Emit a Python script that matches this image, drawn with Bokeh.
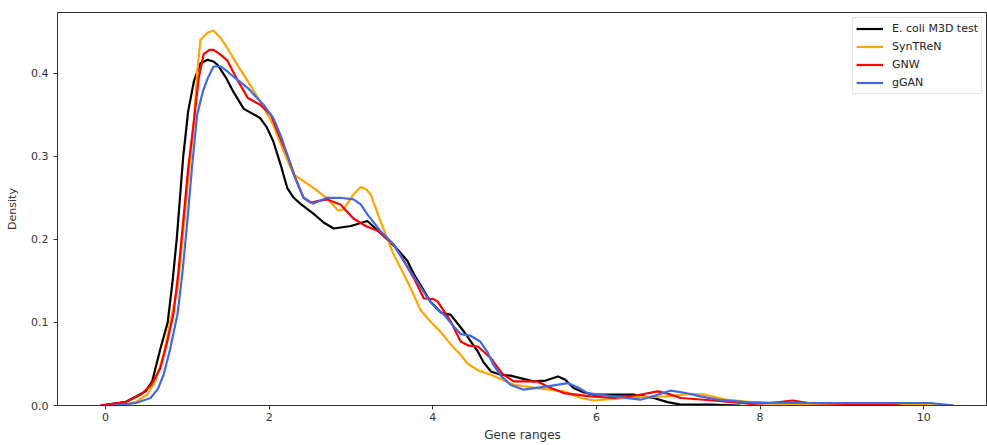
from bokeh.plotting import figure
from bokeh.models import Range1d, SingleIntervalTicker, PrintfTickFormatter, Legend, LegendItem
from bokeh.embed import file_html
from bokeh.resources import INLINE

# E. coli M3D test
ecoli_x = [-0.06, 0.24, 0.49, 0.57, 0.67, 0.76, 0.82, 0.87, 0.91, 0.95, 1.01, 1.08, 1.16, 1.25, 1.32, 1.37,
           1.47, 1.56, 1.69, 1.80, 1.89, 1.97, 2.05, 2.14, 2.22, 2.30, 2.38, 2.54, 2.67, 2.79, 3.00,
           3.20, 3.40, 3.55, 3.69, 3.77, 3.85, 3.97, 4.10, 4.22, 4.38, 4.55, 4.62, 4.71, 4.83, 4.95,
           5.07, 5.23, 5.38, 5.53, 5.62, 5.72, 5.84, 5.97, 6.21, 6.45, 6.70, 6.87, 7.03, 7.40, 7.76]
ecoli_y = [0.000, 0.004, 0.017, 0.029, 0.068, 0.100, 0.150, 0.200, 0.250, 0.300, 0.354, 0.390, 0.412, 0.416, 0.414, 0.410,
           0.395, 0.378, 0.357, 0.351, 0.346, 0.335, 0.318, 0.290, 0.262, 0.250, 0.243, 0.231, 0.220, 0.213, 0.216,
           0.222, 0.204, 0.190, 0.174, 0.158, 0.145, 0.125, 0.112, 0.109, 0.089, 0.065, 0.052, 0.041, 0.037, 0.036,
           0.033, 0.029, 0.030, 0.035, 0.031, 0.021, 0.016, 0.013, 0.013, 0.013, 0.009, 0.004, 0.001, 0.001, 0.000]

# SynTReN
syn_x = [0.18, 0.37, 0.51, 0.61, 0.71, 0.79, 0.88, 0.94, 1.00, 1.08, 1.12, 1.16, 1.25, 1.32, 1.41,
         1.49, 1.61, 1.74, 1.89, 2.05, 2.18, 2.30, 2.42, 2.54, 2.71, 2.84, 2.91, 3.03, 3.12, 3.19,
         3.24, 3.36, 3.52, 3.61, 3.73, 3.85, 3.97, 4.10, 4.25, 4.34, 4.43, 4.56, 4.71, 4.99, 5.28,
         5.60, 5.81, 5.97, 6.21, 6.54, 6.85, 7.15, 7.33, 7.58, 7.89, 8.19, 8.99, 9.47, 9.96, 10.33]
syn_y = [0.000, 0.004, 0.013, 0.030, 0.061, 0.100, 0.141, 0.200, 0.262, 0.342, 0.400, 0.440, 0.449, 0.451, 0.442,
         0.430, 0.410, 0.390, 0.366, 0.338, 0.305, 0.278, 0.270, 0.262, 0.249, 0.235, 0.236, 0.254, 0.263, 0.260,
         0.254, 0.222, 0.182, 0.165, 0.141, 0.115, 0.101, 0.088, 0.070, 0.061, 0.050, 0.042, 0.037, 0.025, 0.021,
         0.017, 0.009, 0.006, 0.008, 0.010, 0.011, 0.014, 0.013, 0.007, 0.004, 0.002, 0.002, 0.002, 0.001, 0.000]

# GNW
gnw_x = [-0.06, 0.24, 0.43, 0.56, 0.67, 0.75, 0.83, 0.89, 0.95, 1.01, 1.08, 1.14, 1.20, 1.27, 1.32,
         1.41, 1.49, 1.61, 1.74, 1.89, 2.02, 2.11, 2.22, 2.32, 2.42, 2.51, 2.59, 2.71, 2.87, 3.03,
         3.18, 3.33, 3.52, 3.64, 3.77, 3.89, 4.01, 4.06, 4.22, 4.34, 4.44, 4.55, 4.62, 4.71, 4.85,
         4.99, 5.28, 5.42, 5.60, 5.93, 6.21, 6.48, 6.75, 6.88, 7.03, 7.43, 7.89, 8.13, 8.40, 8.59,
         9.05, 9.54, 9.72]
gnw_y = [0.000, 0.004, 0.013, 0.025, 0.045, 0.075, 0.110, 0.160, 0.222, 0.285, 0.342, 0.395, 0.423, 0.428, 0.428,
         0.422, 0.415, 0.392, 0.370, 0.362, 0.350, 0.328, 0.302, 0.274, 0.250, 0.244, 0.246, 0.248, 0.242, 0.225,
         0.216, 0.210, 0.194, 0.175, 0.153, 0.129, 0.128, 0.125, 0.101, 0.077, 0.072, 0.071, 0.065, 0.057, 0.038,
         0.029, 0.029, 0.022, 0.015, 0.011, 0.009, 0.012, 0.017, 0.014, 0.009, 0.006, 0.002, 0.003, 0.006, 0.003,
         0.002, 0.001, 0.000]

# gGAN
ggan_x = [0.10, 0.37, 0.55, 0.64, 0.71, 0.79, 0.88, 0.94, 1.00, 1.06, 1.12, 1.19, 1.25, 1.32, 1.41,
          1.49, 1.56, 1.74, 1.93, 2.05, 2.14, 2.22, 2.32, 2.42, 2.54, 2.71, 2.87, 3.03, 3.12, 3.20,
          3.36, 3.52, 3.73, 3.94, 4.06, 4.13, 4.24, 4.34, 4.46, 4.58, 4.67, 4.74, 4.84, 4.95, 5.11,
          5.40, 5.65, 5.77, 5.89, 6.21, 6.54, 6.72, 6.91, 7.09, 7.27, 7.48, 7.82, 8.31, 9.05, 9.72,
          10.09, 10.37]
ggan_y = [0.000, 0.003, 0.009, 0.020, 0.037, 0.068, 0.110, 0.160, 0.222, 0.290, 0.350, 0.378, 0.394, 0.408, 0.408,
          0.402, 0.396, 0.382, 0.362, 0.346, 0.325, 0.302, 0.273, 0.250, 0.243, 0.250, 0.250, 0.248, 0.242, 0.230,
          0.210, 0.194, 0.161, 0.129, 0.115, 0.110, 0.097, 0.086, 0.084, 0.077, 0.064, 0.049, 0.035, 0.025, 0.019,
          0.023, 0.027, 0.022, 0.015, 0.011, 0.007, 0.012, 0.018, 0.015, 0.011, 0.007, 0.004, 0.003, 0.003, 0.003,
          0.003, 0.000]

series_names = ["E. coli M3D test", "SynTReN", "GNW", "gGAN"]
series_colors = ["black", "orange", "red", "royalblue"]

FONT = "DejaVu Sans"

p = figure(width=987, height=445, output_backend="svg", toolbar_location=None,
           x_range=Range1d(-0.587, 10.78), y_range=Range1d(0, 0.473),
           min_border_left=57, min_border_right=0, min_border_top=12, min_border_bottom=40)
p.xgrid.visible = False
p.ygrid.visible = False
p.outline_line_color = "#333333"
p.outline_line_width = 1
p.background_fill_color = "white"
p.border_fill_color = "white"

renderers = []
for xs, ys, c in [(ecoli_x, ecoli_y, series_colors[0]), (syn_x, syn_y, series_colors[1]),
                  (gnw_x, gnw_y, series_colors[2]), (ggan_x, ggan_y, series_colors[3])]:
    r = p.line(xs, ys, line_color=c, line_width=2.2, line_join="round")
    renderers.append(r)

p.xaxis.ticker = SingleIntervalTicker(interval=2, num_minor_ticks=0)
p.yaxis.ticker = SingleIntervalTicker(interval=0.1, num_minor_ticks=0)
p.yaxis.formatter = PrintfTickFormatter(format="%.1f")
for ax in (p.xaxis, p.yaxis):
    ax.major_tick_in = 0
    ax.major_tick_out = 4
    ax.minor_tick_out = 0
    ax.minor_tick_in = 0
    ax.axis_line_color = "#333333"
    ax.major_tick_line_color = "#333333"
    ax.major_label_text_font = FONT
    ax.major_label_text_font_size = "11px"
    ax.major_label_text_color = "#333333"
    ax.axis_label_text_font = FONT
    ax.axis_label_text_font_style = "normal"
    ax.axis_label_text_color = "#333333"
p.xaxis.axis_label = "Gene ranges"
p.yaxis.axis_label = "Density"
p.xaxis.axis_label_text_font_size = "12px"
p.yaxis.axis_label_text_font_size = "11px"
p.xaxis.major_label_standoff = 3
p.xaxis.axis_label_standoff = 4
p.yaxis.major_label_standoff = 5
p.yaxis.axis_label_standoff = 9

legend = Legend(items=[LegendItem(label=n, renderers=[r]) for n, r in zip(series_names, renderers)],
                location="top_right", margin=5, padding=3, spacing=3,
                glyph_width=27, glyph_height=15, label_height=15, label_standoff=9,
                label_text_font=FONT, label_text_font_size="11px", label_text_color="#222222",
                border_line_color="#cccccc", border_line_width=1,
                background_fill_color="white", background_fill_alpha=0.85)
p.add_layout(legend)

open("out.html", "w").write(file_html(p, INLINE))
